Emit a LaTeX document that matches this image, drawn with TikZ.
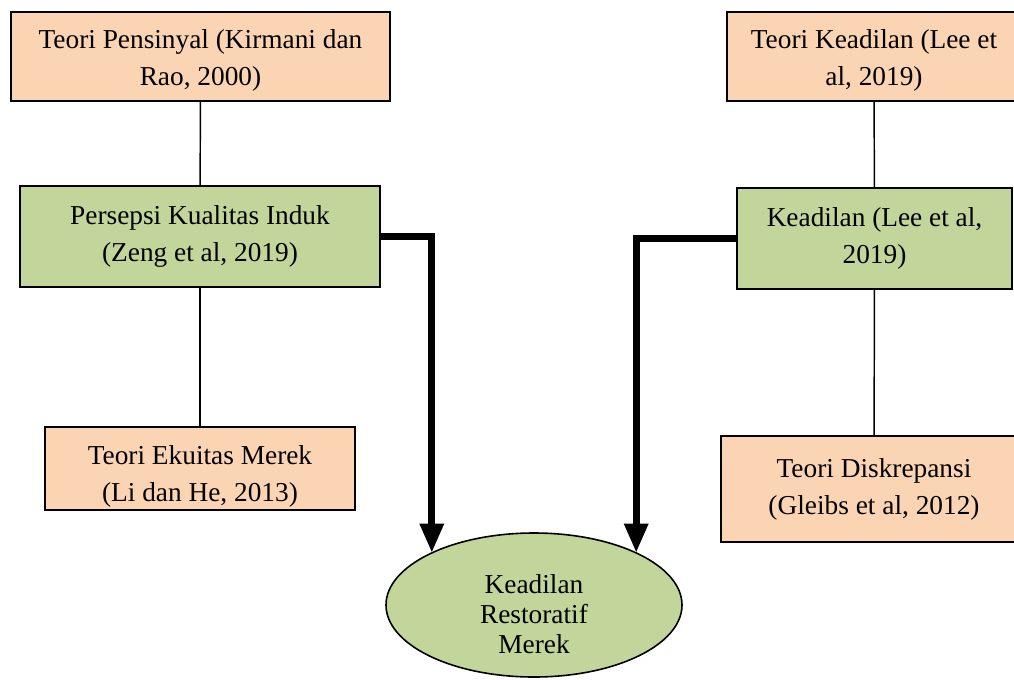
\documentclass[tikz,border=0pt]{standalone}
\usepackage{fontspec}
\setmainfont{Liberation Serif}
\usetikzlibrary{shapes.geometric,arrows.meta}

\definecolor{peach}{RGB}{251,212,180}
\definecolor{olive}{RGB}{194,214,155}
\newcommand{\turunteks}[1]{\rule{0pt}{#1}}

\begin{document}
\begin{tikzpicture}[x=0.75pt,y=0.75pt,yscale=-1,xscale=1,
  teori/.style={draw, fill=peach, line width=1.5pt, align=center, inner sep=0.75pt, outer sep=0pt, font=\fontsize{20.5}{27.75}\selectfont},
  konsep/.style={teori, fill=olive},
  garis/.style={line width=1.1pt},
  panah/.style={line width=5.25pt, -{Triangle[length=22pt,width=17pt]}}]
%set diagram left start at 0, and has height of 679
\clip (0,0) rectangle (1014,679);

%Shape: Rectangle [Teori Pensinyal]
\node [teori, minimum width=284.25pt, minimum height=66.75pt] (pensinyal) at (200.5,56.5) {\turunteks{20pt}Teori Pensinyal (Kirmani dan\\Rao, 2000)};
%Shape: Rectangle [Persepsi Kualitas Induk]
\node [konsep, minimum width=270pt, minimum height=75.75pt] (persepsi) at (200,236.5) {Persepsi Kualitas Induk\\(Zeng et al, 2019)};
%Shape: Rectangle [Teori Ekuitas Merek]
\node [teori, minimum width=232.5pt, minimum height=62.25pt] (ekuitas) at (200,468.5) {\turunteks{26pt}Teori Ekuitas Merek\\(Li dan He, 2013)};
%Shape: Rectangle [Teori Keadilan]
\node [teori, minimum width=220.5pt, minimum height=66.75pt] (teorikeadilan) at (874,56.5) {\turunteks{20pt}Teori Keadilan (Lee et\\al, 2019)};
%Shape: Rectangle [Keadilan]
\node [konsep, minimum width=206.25pt, minimum height=75.75pt] (keadilan) at (874.5,238.5) {Keadilan (Lee et al,\\2019)};
%Shape: Rectangle [Teori Diskrepansi]
\node [teori, minimum width=229.5pt, minimum height=79.5pt] (diskrepansi) at (874,489) {Teori Diskrepansi\\(Gleibs et al, 2012)};
%Shape: Ellipse [Keadilan Restoratif Merek]
\node [teori, ellipse, fill=olive, line width=1.2pt, minimum width=222pt, minimum height=108pt, font=\fontsize{20.5}{22.5}\selectfont] (restoratif) at (534,605) {\turunteks{28pt}Keadilan\\Restoratif\\Merek};

%Straight Lines
\draw [garis] (pensinyal) -- (persepsi);
\draw [garis] (persepsi) -- (ekuitas);
\draw [garis] (teorikeadilan) -- (keadilan);
\draw [garis] (keadilan) -- (diskrepansi);

%Thick Arrows
\draw [panah] (persepsi.east) -| (restoratif.153);
\draw [panah] (keadilan.west) -| (restoratif.27);
\end{tikzpicture}
\end{document}
